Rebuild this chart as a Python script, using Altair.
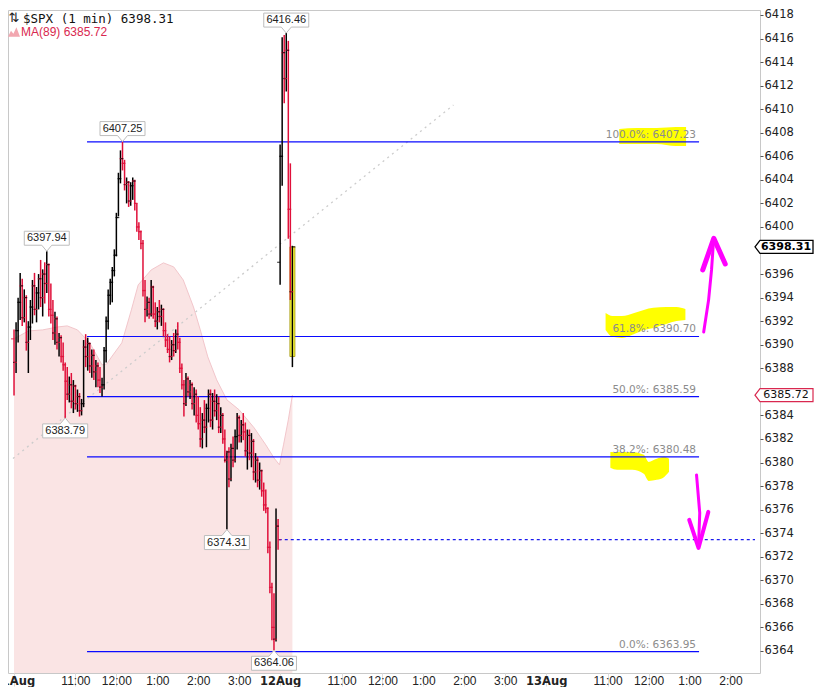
import json
import pandas as pd
import altair as alt

bar_minutes = 3
session_minutes = 390

open_aug11 = 6390.5
highs_aug11 = [
    6391.3, 6391.9, 6394.0, 6396.1, 6395.6, 6394.7, 6394.2, 6392.0, 6393.8, 6395.5,
    6396.1, 6394.9, 6396.0, 6397.2, 6396.4, 6397.0, 6397.94, 6396.9, 6395.2, 6393.8,
    6392.8, 6392.4, 6391.0, 6390.8, 6390.2, 6388.5, 6388.1, 6387.3, 6387.6, 6387.0,
    6386.6, 6386.2, 6385.9, 6385.4, 6390.4, 6390.9, 6390.6, 6390.2, 6389.6, 6389.6,
    6388.7, 6388.5, 6388.1, 6387.2, 6389.8, 6392.4, 6394.7, 6395.6, 6396.6, 6398.1,
    6401.2, 6404.6, 6406.5, 6407.25, 6405.7, 6404.2, 6403.9, 6403.8, 6404.2, 6404.0,
    6402.0, 6400.4, 6399.7, 6398.9, 6395.5, 6394.1, 6394.0, 6395.5, 6395.0, 6393.6,
    6393.2, 6393.8, 6393.4, 6393.1, 6391.9, 6390.9, 6390.7, 6390.4, 6391.0, 6391.3,
    6391.9, 6390.6, 6388.4, 6387.0, 6387.6, 6387.3, 6387.0, 6386.8, 6386.4, 6386.2,
    6385.6, 6384.7, 6384.2, 6385.3, 6385.0, 6386.2, 6386.2, 6385.9, 6386.2, 6385.8,
    6385.6, 6384.7, 6384.2, 6382.8, 6381.0, 6381.3, 6381.6, 6382.2, 6382.8, 6384.2,
    6384.0, 6383.6, 6384.2, 6383.4, 6382.8, 6382.8, 6382.5, 6382.0, 6380.8, 6380.5,
    6380.0, 6379.4, 6378.3, 6377.7, 6376.2, 6373.3, 6369.8, 6368.9, 6376.1, 6375.2,
]
lows_aug11 = [
    6385.7, 6387.6, 6390.2, 6392.1, 6391.6, 6391.9, 6389.5, 6387.6, 6390.4, 6391.8,
    6392.5, 6391.9, 6393.0, 6393.2, 6392.4, 6393.5, 6394.4, 6392.4, 6391.8, 6390.4,
    6390.0, 6389.6, 6389.0, 6388.5, 6387.8, 6383.79, 6385.3, 6385.1, 6384.6, 6384.2,
    6384.5, 6384.3, 6383.9, 6384.0, 6384.7, 6388.1, 6387.8, 6387.6, 6387.2, 6387.0,
    6386.4, 6386.4, 6385.9, 6385.6, 6386.2, 6388.5, 6391.3, 6393.4, 6393.6, 6395.8,
    6397.5, 6400.9, 6403.7, 6404.8, 6403.1, 6402.0, 6401.7, 6401.8, 6402.3, 6401.4,
    6399.6, 6398.9, 6398.1, 6394.1, 6391.9, 6392.4, 6392.2, 6392.4, 6392.2, 6391.5,
    6391.3, 6391.9, 6391.6, 6390.7, 6389.8, 6389.3, 6388.5, 6388.7, 6389.0, 6389.3,
    6389.6, 6387.6, 6386.2, 6383.9, 6384.8, 6385.6, 6385.4, 6384.5, 6384.0, 6383.4,
    6382.8, 6381.3, 6381.2, 6382.5, 6381.3, 6383.4, 6383.0, 6382.8, 6383.9, 6383.6,
    6382.5, 6382.5, 6381.6, 6380.0, 6374.31, 6377.9, 6378.4, 6379.6, 6380.0, 6381.1,
    6381.7, 6381.7, 6381.9, 6380.5, 6379.4, 6380.2, 6379.6, 6378.5, 6378.3, 6377.9,
    6377.7, 6377.1, 6375.9, 6375.7, 6372.3, 6368.9, 6364.9, 6364.06, 6364.8, 6372.6,
]
closes_aug11 = [
    6388.5, 6391.2, 6393.6, 6395.0, 6392.3, 6394.0, 6390.2, 6391.5, 6393.2, 6395.0,
    6393.0, 6394.4, 6395.6, 6394.0, 6396.0, 6395.2, 6396.8, 6393.0, 6392.5, 6391.0,
    6392.2, 6390.2, 6390.6, 6389.0, 6388.3, 6386.9, 6385.8, 6386.6, 6385.2, 6386.5,
    6385.0, 6385.6, 6384.4, 6385.0, 6389.8, 6389.0, 6390.1, 6388.2, 6389.1, 6387.7,
    6388.2, 6387.0, 6386.4, 6386.6, 6389.5, 6392.0, 6394.2, 6395.3, 6396.3, 6397.6,
    6400.8, 6404.1, 6405.8, 6405.4, 6403.6, 6403.8, 6402.2, 6403.5, 6403.9, 6402.0,
    6400.0, 6399.6, 6398.6, 6394.6, 6393.0, 6393.6, 6392.6, 6394.9, 6392.6, 6392.0,
    6392.8, 6392.4, 6393.0, 6391.2, 6390.4, 6389.6, 6389.0, 6390.0, 6389.5, 6390.9,
    6390.2, 6388.0, 6386.6, 6385.0, 6387.1, 6386.0, 6386.6, 6385.0, 6385.8, 6384.0,
    6383.3, 6382.0, 6383.6, 6383.0, 6384.6, 6385.8, 6383.6, 6385.2, 6384.4, 6385.0,
    6383.0, 6384.0, 6382.0, 6380.2, 6380.9, 6378.6, 6381.2, 6380.2, 6382.2, 6383.8,
    6382.3, 6383.2, 6382.6, 6381.0, 6382.3, 6380.8, 6381.8, 6379.2, 6380.2, 6378.5,
    6379.3, 6377.6, 6376.4, 6376.1, 6372.8, 6369.4, 6366.0, 6365.0, 6374.6, 6373.45,
]

open_aug12 = 6397.0
highs_aug12 = [6407.0, 6416.1, 6416.3, 6416.46, 6415.8, 6405.4, 6398.4]
lows_aug12 = [6395.1, 6403.5, 6410.5, 6411.5, 6399.0, 6393.8, 6388.1]
closes_aug12 = [6406.0, 6414.8, 6412.6, 6415.0, 6401.5, 6394.5, 6398.31]

# latest 1-minute bar (highlighted)
last_bar_minute = 408
last_bar_low = 6389.0
last_bar_high = 6398.31

# MA(89)
ma_minutes = [0, 21, 42, 64, 78, 93, 111, 129, 136, 143, 158, 172, 182, 201, 219,
              234, 248, 263, 273, 284, 297, 312, 330, 352, 369, 381, 389, 395, 402, 408]
ma_values = [6390.5, 6391.17, 6391.26, 6391.51, 6391.60, 6391.26, 6390.16, 6388.29,
             6388.37, 6388.97, 6390.16, 6392.96, 6395.08, 6396.35, 6396.95, 6396.61,
             6395.50, 6393.21, 6391.26, 6388.97, 6387.02, 6385.32, 6384.47, 6382.94,
             6381.50, 6380.39, 6379.80, 6381.50, 6383.62, 6385.72]

# Fibonacci retracement
fib_pcts = ["100.0%", "61.8%", "50.0%", "38.2%", "0.0%"]
fib_prices = [6407.23, 6390.70, 6385.59, 6380.48, 6363.95]
fib_start = 107
fib_end = 1004

prev_close = 6373.45
prev_close_start = 388

trend_minutes = [-1.5, 644]
trend_prices = [6380.35, 6410.36]

# price call-outs
peak_minutes = [48, 75, 159, 312, 381, 399]
peak_prices = [6397.94, 6383.79, 6407.25, 6374.31, 6364.06, 6416.46]
peak_side = ["above", "below", "above", "below", "below", "above"]

last_price = 6398.31
ma_last = 6385.72

# hand-drawn highlighter marks
hl_group = ["h100"] * 5 + ["h618"] * 9 + ["h382"] * 8
hl_minutes = [887, 913, 942, 970, 985,
              867, 877, 891, 909, 923, 937, 956, 971, 984,
              874, 884, 906, 923, 930, 942, 953, 960]
hl_top = [6408.32, 6408.41, 6408.41, 6408.49, 6408.49,
          6392.70, 6392.45, 6392.45, 6392.70, 6392.96, 6393.13, 6393.21, 6393.21, 6393.04,
          6380.90, 6380.90, 6380.90, 6380.65, 6380.05, 6380.31, 6380.48, 6380.31]
hl_bottom = [6407.05, 6407.05, 6407.05, 6406.88, 6406.88,
             6391.26, 6390.67, 6390.58, 6390.92, 6391.26, 6391.43, 6391.77, 6392.02, 6392.11,
             6379.55, 6379.38, 6379.38, 6379.04, 6378.44, 6378.53, 6378.78, 6379.21]

# hand-drawn magenta arrows
arrow_group = ["up_shaft"] * 4 + ["up_head"] * 3 + ["dn_shaft"] * 3 + ["dn_head"] * 3
arrow_minutes = [1010.8, 1018, 1022.3, 1025.2, 1009.4, 1025.6, 1042.4,
                 1000.3, 1005.0, 1003.2, 989.6, 1003.2, 1017.6]
arrow_prices = [6391.09, 6393.81, 6396.35, 6398.81, 6396.35, 6399.03, 6396.86,
                6378.95, 6375.72, 6372.75, 6375.13, 6372.75, 6375.81]
arrow_widths = [3] * 4 + [5] * 3 + [3] * 3 + [4] * 3

tick_minutes = [0, 90, 150, 210, 270, 330, 390, 480, 540, 600, 660, 720,
                780, 870, 930, 990, 1050]
tick_labels = ["11Aug", "11:00", "12:00", "1:00", "2:00", "3:00", "12Aug", "11:00",
               "12:00", "1:00", "2:00", "3:00", "13Aug", "11:00", "12:00", "1:00", "2:00"]
# 6386 and 6398 sit under the price tags
y_ticks = [6364, 6366, 6368, 6370, 6372, 6374, 6376, 6378, 6380, 6382, 6384, 6388,
           6390, 6392, 6394, 6396, 6400, 6402, 6404, 6406, 6408, 6410, 6412, 6414,
           6416, 6418]

x_lo, x_hi = -1.5, 1086
y_lo, y_hi = 6362.13, 6418.42


def day_bars(start, first_open, highs, lows, closes):
    opens = [first_open] + closes[:-1]
    return pd.DataFrame({
        "m": [start + bar_minutes * k for k in range(len(closes))],
        "open": opens, "high": highs, "low": lows, "close": closes,
    })


bars = pd.concat([
    day_bars(0, open_aug11, highs_aug11, lows_aug11, closes_aug11),
    day_bars(session_minutes, open_aug12, highs_aug12, lows_aug12, closes_aug12),
], ignore_index=True)
bars["dir"] = ["up" if c >= o else "down" for o, c in zip(bars["open"], bars["close"])]

ma = pd.DataFrame({"m": ma_minutes, "p": ma_values})
ma["base"] = y_lo
fib = pd.DataFrame({"x1": fib_start, "x2": fib_end, "p": fib_prices,
                    "label": [f"{a}: {b:.2f}" for a, b in zip(fib_pcts, fib_prices)]})
prev = pd.DataFrame({"x1": [prev_close_start], "x2": [x_hi], "p": [prev_close]})
trend = pd.DataFrame({"m": trend_minutes, "p": trend_prices})
peaks = pd.DataFrame({"m": peak_minutes, "p": peak_prices, "side": peak_side,
                      "t": [f"{v:.2f}" for v in peak_prices]})
hl = pd.DataFrame({"g": hl_group, "m": hl_minutes, "top": hl_top, "bot": hl_bottom})
arrows = pd.DataFrame({"g": arrow_group, "m": arrow_minutes, "p": arrow_prices,
                       "w": arrow_widths, "ord": list(range(len(arrow_group)))})
last_bar = pd.DataFrame({"m": [last_bar_minute], "lo": [last_bar_low], "hi": [last_bar_high]})
tag_last = pd.DataFrame({"m": [x_hi], "p": [last_price], "t": [f"{last_price:.2f}"]})
tag_ma = pd.DataFrame({"m": [x_hi], "p": [ma_last], "t": [f"{ma_last:.2f}"]})

is_date = "datum.value % 390 === 0"
label_expr = f"{json.dumps(tick_labels)}[indexof({json.dumps(tick_minutes)}, datum.value)]"

xs = alt.Scale(domain=[x_lo, x_hi], nice=False, zero=False)
ys = alt.Scale(domain=[y_lo, y_hi], nice=False, zero=False)
x_axis = alt.Axis(
    values=tick_minutes, labelExpr=label_expr, title=None, grid=False, domain=False,
    tickSize=13, tickColor="#dddddd", labelPadding=-11, labelOverlap=False,
    labelFlush=False, labelColor="#222222",
    labelFont={"condition": {"test": is_date, "value": "DejaVu Sans"},
               "value": "Liberation Sans Narrow, Arial Narrow, Liberation Sans"},
    labelFontWeight={"condition": {"test": is_date, "value": "bold"}, "value": "normal"},
    labelFontSize={"condition": {"test": is_date, "value": 11.5}, "value": 12},
)
y_axis = alt.Axis(
    orient="right", values=y_ticks, format="d", title=None, grid=False, domain=False,
    tickSize=3, tickColor="#555555", labelPadding=1, labelFont="DejaVu Sans",
    labelFontSize=11.5, labelColor="#222222", labelOverlap=False,
)


def X(f):
    return alt.X(f, type="quantitative", scale=xs, axis=x_axis)


def Y(f):
    return alt.Y(f, type="quantitative", scale=ys, axis=y_axis)


bar_color = alt.Color("dir:N", scale=alt.Scale(domain=["up", "down"],
                                               range=["#000000", "#e0103a"]), legend=None)

ma_area = alt.Chart(ma).mark_area(color="#fae4e4").encode(x=X("m"), y=Y("p"), y2="base:Q")
ma_edge = alt.Chart(ma).mark_line(color="#f2c6cb", strokeWidth=1).encode(x=X("m"), y=Y("p"))

trend_line = alt.Chart(trend).mark_line(
    color="#cccccc", strokeDash=[2, 4], strokeWidth=1.3
).encode(x=X("m"), y=Y("p"))

highlight = alt.Chart(hl).mark_area(color="#ffff00", opacity=1, interpolate="monotone").encode(
    x=X("m"), y=Y("top"), y2="bot:Q", detail="g:N")

fib_lines = alt.Chart(fib).mark_rule(color="#0a0aff", strokeWidth=1.2).encode(
    x=X("x1"), x2="x2:Q", y=Y("p"))
prev_line = alt.Chart(prev).mark_rule(color="#1a1aee", strokeWidth=1.1, strokeDash=[3, 3]).encode(
    x=X("x1"), x2="x2:Q", y=Y("p"))

last_hl = alt.Chart(last_bar).mark_bar(
    color="#ffff3c", stroke="#a09000", strokeWidth=0.8, size=5
).encode(x=X("m"), y=Y("lo"), y2="hi:Q")

bar_rules = alt.Chart(bars).mark_rule(strokeWidth=1.5).encode(
    x=X("m"), y=Y("high"), y2="low:Q", color=bar_color)
open_ticks = alt.Chart(bars).mark_tick(orient="horizontal", size=3, thickness=1.2, xOffset=-1.5).encode(
    x=X("m"), y=Y("open"), color=bar_color)
close_ticks = alt.Chart(bars).mark_tick(orient="horizontal", size=3, thickness=1.2, xOffset=1.5).encode(
    x=X("m"), y=Y("close"), color=bar_color)

fib_text = alt.Chart(fib).mark_text(
    align="right", baseline="alphabetic", dx=-3, dy=-4, font="DejaVu Sans",
    fontSize=10.5, color="#8c8c8c"
).encode(x=X("x2"), y=Y("p"), text="label:N")

above_shape = "M0,0 L-0.1,-0.12 L-0.45,-0.12 L-0.45,-0.4 L0.45,-0.4 L0.45,-0.12 L0.1,-0.12 Z"
below_shape = "M0,0 L-0.1,0.12 L-0.45,0.12 L-0.45,0.4 L0.45,0.4 L0.45,0.12 L0.1,0.12 Z"
peaks_up = alt.Chart(peaks).transform_filter("datum.side === 'above'")
peaks_dn = alt.Chart(peaks).transform_filter("datum.side === 'below'")
tag_style = dict(size=10000, filled=True, fill="white", stroke="#bdbdbd", strokeWidth=1, opacity=1)
tag_font = dict(font="Liberation Sans", fontSize=11, color="#222222", baseline="middle")
up_box = peaks_up.mark_point(shape=above_shape, **tag_style).encode(x=X("m"), y=Y("p"))
up_txt = peaks_up.mark_text(dy=-13, **tag_font).encode(x=X("m"), y=Y("p"), text="t:N")
dn_box = peaks_dn.mark_point(shape=below_shape, **tag_style).encode(x=X("m"), y=Y("p"))
dn_txt = peaks_dn.mark_text(dy=13, **tag_font).encode(x=X("m"), y=Y("p"), text="t:N")

right_shape = "M0,0 L0.1,-0.13 L1.16,-0.13 L1.16,0.13 L0.1,0.13 Z"
last_box = alt.Chart(tag_last).mark_point(
    shape=right_shape, size=10000, filled=True, fill="white", stroke="#000000",
    strokeWidth=1.3, opacity=1).encode(x=X("m"), y=Y("p"))
last_txt = alt.Chart(tag_last).mark_text(
    dx=31, font="DejaVu Sans", fontSize=11, fontWeight="bold", color="#000000",
    baseline="middle").encode(x=X("m"), y=Y("p"), text="t:N")
ma_box = alt.Chart(tag_ma).mark_point(
    shape=right_shape, size=10000, filled=True, fill="white", stroke="#d9284f",
    strokeWidth=1.2, opacity=1).encode(x=X("m"), y=Y("p"))
ma_txt = alt.Chart(tag_ma).mark_text(
    dx=31, font="DejaVu Sans", fontSize=11, color="#111111",
    baseline="middle").encode(x=X("m"), y=Y("p"), text="t:N")

arrow_lines = alt.Chart(arrows).mark_line(
    color="#ff00ff", strokeCap="round", strokeJoin="round"
).encode(x=X("m"), y=Y("p"), detail="g:N", order="ord:Q",
         size=alt.Size("w:Q", scale=None, legend=None))

# legend in the top-left corner
one = pd.DataFrame({"k": [0]})
leg_icon = alt.Chart(one).mark_text(
    text="⇅", font="DejaVu Sans", fontSize=13, color="#222222", baseline="middle"
).encode(x=alt.value(6), y=alt.value(8))
leg_spx = alt.Chart(one).mark_text(
    text=f"$SPX (1 min) {last_price:.2f}", font="DejaVu Sans Mono", fontSize=12.5,
    color="#111111", align="left", baseline="alphabetic"
).encode(x=alt.value(15), y=alt.value(13))
leg_ma_icon = alt.Chart(one).mark_point(
    shape="M-1,0.8 L-0.5,-0.2 L-0.1,0.3 L0.4,-0.8 L1,0.8 Z", size=144, filled=True,
    fill="#f2a7b0", opacity=1, strokeWidth=0
).encode(x=alt.value(6), y=alt.value(22))
leg_ma = alt.Chart(one).mark_text(
    text=f"MA(89) {ma_last:.2f}", font="Liberation Sans", fontSize=12,
    color="#d9284f", align="left", baseline="alphabetic"
).encode(x=alt.value(13), y=alt.value(26))

chart = alt.layer(
    ma_area, ma_edge, trend_line, highlight, fib_lines, prev_line, last_hl,
    bar_rules, open_ticks, close_ticks, fib_text,
    up_box, up_txt, dn_box, dn_txt, last_box, last_txt, ma_box, ma_txt,
    arrow_lines, leg_icon, leg_spx, leg_ma_icon, leg_ma,
).properties(
    width=752, height=663, autosize="none",
    padding={"left": 0, "top": 2, "right": 64, "bottom": 14},
).configure_view(stroke="#c8c8c8", strokeWidth=1)

chart.save("out.html", embed_options={"renderer": "svg", "actions": False})
